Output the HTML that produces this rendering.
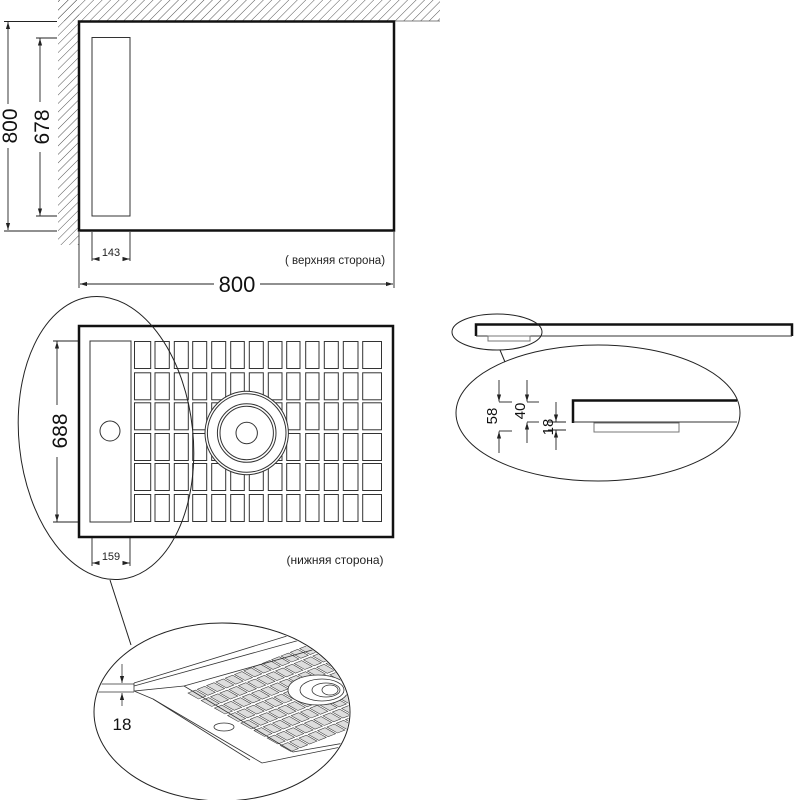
<!DOCTYPE html>
<html><head><meta charset="utf-8"><style>
html,body{margin:0;padding:0;background:#fff;}
svg{display:block;font-family:"Liberation Sans",sans-serif;}
</style></head><body>
<svg width="794" height="800" viewBox="0 0 794 800" xmlns="http://www.w3.org/2000/svg">
<defs>
<pattern id="h" width="6" height="6" patternUnits="userSpaceOnUse" patternTransform="rotate(45)">
<line x1="0" y1="0" x2="0" y2="6" stroke="#555" stroke-width="1"/>
</pattern>
<marker id="a" viewBox="0 0 10 10" refX="10" refY="5" markerWidth="7" markerHeight="7" orient="auto-start-reverse" markerUnits="userSpaceOnUse"><path d="M0,2 L10,5 L0,8 Z" fill="#222"/></marker>
<g id="row" fill="#fff" stroke="#333" stroke-width="1">
<rect x="134.5" y="0" width="16.2" height="27"/>
<rect x="155" y="0" width="14.3" height="27"/>
<rect x="174.3" y="0" width="14" height="27"/>
<rect x="192.7" y="0" width="14" height="27"/>
<rect x="211.7" y="0" width="14" height="27"/>
<rect x="230.7" y="0" width="13.6" height="27"/>
<rect x="249.3" y="0" width="14" height="27"/>
<rect x="268.3" y="0" width="13.7" height="27"/>
<rect x="286.7" y="0" width="13.3" height="27"/>
<rect x="305.7" y="0" width="13.3" height="27"/>
<rect x="324.3" y="0" width="14" height="27"/>
<rect x="343.3" y="0" width="14.7" height="27"/>
<rect x="362.7" y="0" width="18.8" height="27"/>
</g>
<g id="prow" fill="#ddd" stroke="#333" stroke-width="0.7">
<rect x="0" y="0" width="8" height="12"/><rect x="10" y="0" width="8" height="12"/><rect x="20" y="0" width="8" height="12"/><rect x="30" y="0" width="8" height="12"/><rect x="40" y="0" width="8" height="12"/><rect x="50" y="0" width="8" height="12"/><rect x="60" y="0" width="8" height="12"/><rect x="70" y="0" width="8" height="12"/><rect x="80" y="0" width="8" height="12"/><rect x="90" y="0" width="8" height="12"/><rect x="100" y="0" width="8" height="12"/><rect x="110" y="0" width="8" height="12"/><rect x="120" y="0" width="8" height="12"/><rect x="130" y="0" width="8" height="12"/><rect x="140" y="0" width="8" height="12"/><rect x="150" y="0" width="8" height="12"/><rect x="160" y="0" width="8" height="12"/><rect x="170" y="0" width="8" height="12"/><rect x="180" y="0" width="8" height="12"/><rect x="190" y="0" width="8" height="12"/>
</g>
<clipPath id="ec"><ellipse cx="222" cy="712" rx="127" ry="88"/></clipPath>
</defs>

<!-- TOP VIEW -->
<rect x="58" y="0" width="382" height="21" fill="url(#h)"/>
<rect x="58" y="0" width="21" height="245" fill="url(#h)"/>
<line x1="79" y1="21" x2="440" y2="21" stroke="#555" stroke-width="0.8"/>
<rect x="79" y="21.5" width="315" height="209" fill="#fff" stroke="#111" stroke-width="2.5"/>
<rect x="92" y="37.5" width="38" height="178.5" fill="none" stroke="#333" stroke-width="1"/>
<g stroke="#222" stroke-width="0.9" fill="none">
<line x1="4" y1="21.5" x2="57" y2="21.5"/>
<line x1="4" y1="231" x2="57" y2="231"/>
<line x1="8" y1="22" x2="8" y2="104" marker-start="url(#a)"/>
<line x1="8" y1="148" x2="8" y2="230" marker-end="url(#a)"/>
<line x1="36" y1="38" x2="57" y2="38"/>
<line x1="36" y1="216" x2="57" y2="216"/>
<line x1="40" y1="38.5" x2="40" y2="102" marker-start="url(#a)"/>
<line x1="40" y1="152" x2="40" y2="215.5" marker-end="url(#a)"/>
<line x1="92" y1="232" x2="92" y2="261"/>
<line x1="130" y1="232" x2="130" y2="261"/>
<line x1="98" y1="259" x2="92.5" y2="259" marker-end="url(#a)"/>
<line x1="124" y1="259" x2="129.5" y2="259" marker-end="url(#a)"/>
<line x1="79" y1="232" x2="79" y2="288"/>
<line x1="394" y1="232" x2="394" y2="288"/>
<line x1="80" y1="284" x2="214" y2="284" marker-start="url(#a)"/>
<line x1="260" y1="284" x2="393" y2="284" marker-end="url(#a)"/>
</g>
<text x="0" y="0" transform="translate(17,126) rotate(-90)" font-size="21" text-anchor="middle" fill="#111">800</text>
<text x="0" y="0" transform="translate(49,127) rotate(-90)" font-size="21" text-anchor="middle" fill="#111">678</text>
<text x="111" y="256" font-size="11" text-anchor="middle" fill="#222">143</text>
<text x="335" y="264" font-size="11.5" text-anchor="middle" fill="#222">( верхняя сторона)</text>
<text x="237" y="292" font-size="22" text-anchor="middle" fill="#111">800</text>

<!-- BOTTOM VIEW -->
<rect x="79" y="326" width="314" height="211" fill="#fff" stroke="#111" stroke-width="2.5"/>
<rect x="90" y="341" width="41" height="181" fill="none" stroke="#333" stroke-width="1"/>
<circle cx="110" cy="431" r="10" fill="none" stroke="#333" stroke-width="1"/>
<use href="#row" transform="translate(0,341.5)"/>
<use href="#row" transform="translate(0,372.8)"/>
<use href="#row" transform="translate(0,402.8)"/>
<use href="#row" transform="translate(0,433.5)"/>
<use href="#row" transform="translate(0,463.5)"/>
<use href="#row" transform="translate(0,494.5)"/>
<g fill="#fff" stroke="#333" stroke-width="1">
<circle cx="246.7" cy="433" r="41.7"/>
<circle cx="246.7" cy="433" r="39.3" fill="none"/>
<circle cx="246.7" cy="433" r="29.3" fill="none"/>
<circle cx="246.7" cy="433" r="26.7" fill="none"/>
<circle cx="246.7" cy="433" r="10.7" fill="none"/>
</g>
<g stroke="#222" stroke-width="0.9" fill="none">
<line x1="53" y1="341" x2="78" y2="341"/>
<line x1="53" y1="522" x2="78" y2="522"/>
<line x1="57" y1="341.5" x2="57" y2="405" marker-start="url(#a)"/>
<line x1="57" y1="457" x2="57" y2="521.5" marker-end="url(#a)"/>
<line x1="92" y1="538" x2="92" y2="566"/>
<line x1="130" y1="538" x2="130" y2="566"/>
<line x1="98" y1="563" x2="92.5" y2="563" marker-end="url(#a)"/>
<line x1="124" y1="563" x2="129.5" y2="563" marker-end="url(#a)"/>
</g>
<text x="0" y="0" transform="translate(67,431) rotate(-90)" font-size="21" text-anchor="middle" fill="#111">688</text>
<text x="111" y="560" font-size="11" text-anchor="middle" fill="#222">159</text>
<text x="335" y="564" font-size="12" text-anchor="middle" fill="#222">(нижняя сторона)</text>
<ellipse cx="106" cy="438" rx="87" ry="142" transform="rotate(-6 106 438)" fill="none" stroke="#222" stroke-width="1"/>
<line x1="110" y1="580" x2="131" y2="645" stroke="#222" stroke-width="1"/>

<!-- DETAIL BOTTOM -->
<g clip-path="url(#ec)">
<path d="M187,692 L400,612 L400,740 L293,752 Z" fill="#fff"/>
<g transform="matrix(0.93,-0.37,0.88,0.5,188,693)">
<use href="#prow" transform="translate(0,0)"/>
<use href="#prow" transform="translate(0,15)"/>
<use href="#prow" transform="translate(0,30)"/>
<use href="#prow" transform="translate(0,45)"/>
<use href="#prow" transform="translate(0,60)"/>
<use href="#prow" transform="translate(0,75)"/>
<use href="#prow" transform="translate(0,90)"/>
<use href="#prow" transform="translate(0,105)"/>
</g>
<g stroke="#333" stroke-width="0.8" fill="#fff">
<ellipse cx="318" cy="690" rx="30" ry="15"/>
<ellipse cx="322" cy="690" rx="22" ry="11"/>
<ellipse cx="326" cy="690" rx="14" ry="7"/>
<ellipse cx="330" cy="690" rx="8" ry="5"/>
</g>
<g stroke="#333" stroke-width="0.8" fill="none">
<path d="M134,683 L300,632"/>
<path d="M134,686 L300,640"/>
<path d="M184,686 L330,645"/>
<path d="M134,683 L134,691 L184,686"/>
<path d="M134,691 L153,699 L262,763 L400,735"/>
<path d="M153,699 L250,760"/>
<path d="M184,686 L194,692 L293,752 L350,742"/>
<path d="M96,684 L134,684 M96,692 L134,692"/>
</g>
</g>
<g stroke="#333" stroke-width="0.8" fill="none">
<line x1="122" y1="664" x2="122" y2="683" marker-end="url(#a)"/>
<line x1="122" y1="706" x2="122" y2="693" marker-end="url(#a)"/>
<ellipse cx="224" cy="727" rx="10" ry="4"/>
</g>
<ellipse cx="222" cy="712" rx="128" ry="89" fill="none" stroke="#222" stroke-width="1"/>
<text x="122" y="730" font-size="17" text-anchor="middle" fill="#111">18</text>

<!-- SIDE VIEW -->
<path d="M476,336 L476,324.5 L792,324.5 L792,336" fill="none" stroke="#111" stroke-width="2.5"/>
<line x1="476" y1="336" x2="792" y2="336" stroke="#333" stroke-width="1"/>
<rect x="488" y="336" width="42" height="5" fill="none" stroke="#777" stroke-width="1"/>
<ellipse cx="497" cy="332" rx="45" ry="18" fill="none" stroke="#222" stroke-width="1"/>
<line x1="500" y1="350" x2="505" y2="362" stroke="#222" stroke-width="1"/>
<ellipse cx="598" cy="413" rx="142" ry="68" fill="none" stroke="#222" stroke-width="1"/>
<path d="M573,423 L573,400.5 L737,400.5" fill="none" stroke="#111" stroke-width="2.5"/>
<line x1="573" y1="422" x2="737" y2="422" stroke="#333" stroke-width="1"/>
<rect x="594" y="423" width="85" height="9" fill="none" stroke="#777" stroke-width="1"/>
<g stroke="#222" stroke-width="0.9" fill="none">
<line x1="499" y1="380" x2="499" y2="401.5" marker-end="url(#a)"/>
<line x1="499" y1="453" x2="499" y2="431.5" marker-end="url(#a)"/>
<line x1="499" y1="402" x2="512" y2="402"/>
<line x1="499" y1="431" x2="512" y2="431"/>
<line x1="527" y1="380" x2="527" y2="401.5" marker-end="url(#a)"/>
<line x1="527" y1="443" x2="527" y2="422.5" marker-end="url(#a)"/>
<line x1="527" y1="402" x2="539" y2="402"/>
<line x1="527" y1="422" x2="539" y2="422"/>
<line x1="556" y1="402" x2="556" y2="421.5" marker-end="url(#a)"/>
<line x1="556" y1="450" x2="556" y2="430.5" marker-end="url(#a)"/>
<line x1="548" y1="422" x2="566" y2="422"/>
<line x1="548" y1="430" x2="566" y2="430"/>
</g>
<text x="0" y="0" transform="translate(497,416) rotate(-90)" font-size="15" text-anchor="middle" fill="#111">58</text>
<text x="0" y="0" transform="translate(525,411) rotate(-90)" font-size="15" text-anchor="middle" fill="#111">40</text>
<text x="0" y="0" transform="translate(553,427) rotate(-90)" font-size="15" text-anchor="middle" fill="#111">18</text>
</svg>
</body></html>
